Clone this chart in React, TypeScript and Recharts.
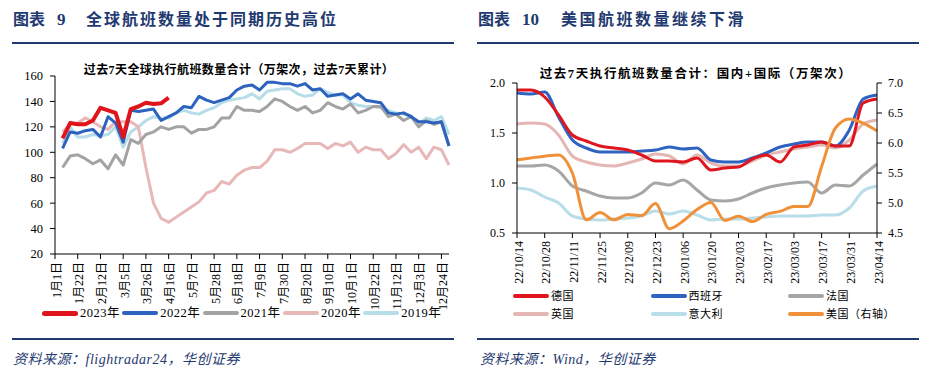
import React from "react";
import { LineChart, Line, XAxis, YAxis } from "recharts";

// ---- 图表9：全球航班（周度，1月1日起） ----
const DAY = 86400000;
const globalWeeks = Array.from({ length: 53 }, (_, i) => {
  const d = new Date(Date.UTC(2023, 0, 1) + i * 7 * DAY);
  return `${d.getUTCMonth() + 1}月${d.getUTCDate()}日`;
});

const y2023 = [null, 111, 123, 122, 122, 125, 135, 133, 131, 112, 134, 136, 139, 138, 138.5, 143, ...Array(37).fill(null)];
const y2022 = [null, 103, 116, 115, 117, 118, 112, 128, 123, 108, 133, 132, 133, 134, 125, 128, 131, 136, 135, 144, 141, 139, 141, 143, 149, 152, 153, 149, 155, 155, 154, 154, 152, 154, 149, 150, 144, 145, 146, 142, 146, 141, 140, 139, 131, 130, 131, 128, 124, 124, 123, 124, 105];
const y2021 = [null, 88, 97, 98, 95, 91, 94, 87, 98, 90, 110, 107, 114, 116, 120, 118, 120, 120, 115, 118, 118, 120, 127, 127, 136, 133, 133, 132, 136, 142, 140, 136, 133, 136, 131, 133, 139, 136, 134, 138, 131, 133, 136, 136, 128, 130, 125, 128, 120, 125, 122, 124, 105];
const y2020 = [null, 116, 122, 123, 127, 124, 120, 118, 124, 124, 124, 120, 88, 60, 48, 45, 49, 53, 57, 61, 68, 70, 77, 75, 82, 86, 88, 88, 93, 102, 102, 100, 103, 107, 107, 107, 103, 107, 105, 108, 100, 104, 102, 102, 95, 99, 106, 100, 104, 95, 104, 102, 90];
const y2019 = [null, 107, 120, 112, 112, 114, 113, 114, 120, 104, 116, 120, 125, 128, 127, 127, 131, 133, 131, 130, 133, 135, 139, 141, 142, 143, 146, 142, 148, 149, 150, 150, 146, 144, 145, 150, 147, 145, 145, 139, 137, 136, 136, 135, 133, 131, 130, 129, 122, 127, 125, 128, 114];
const globalTicks = [20, 40, 60, 80, 100, 120, 140, 160];

const globalSeries = [
  { key: "y2019", name: "2019年", color: "#B7DDE8", data: y2019 },
  { key: "y2020", name: "2020年", color: "#E6B9B8", data: y2020 },
  { key: "y2021", name: "2021年", color: "#A3A3A3", data: y2021 },
  { key: "y2022", name: "2022年", color: "#2D63BE", data: y2022 },
  { key: "y2023", name: "2023年", color: "#E0151C", data: y2023 },
];
const globalLegendOrder = ["y2023", "y2022", "y2021", "y2020", "y2019"];

const globalData = globalWeeks.map((w, i) => {
  const row: Record<string, any> = { week: w };
  globalSeries.forEach((s) => (row[s.key] = s.data[i]));
  return row;
});

// ---- 图表10：欧美航班（周度，22/10/14起） ----
const pad = (n: number) => String(n).padStart(2, "0");
const usWeeks = Array.from({ length: 27 }, (_, i) => {
  const d = new Date(Date.UTC(2022, 9, 14) + i * 7 * DAY);
  return `${String(d.getUTCFullYear()).slice(2)}/${pad(d.getUTCMonth() + 1)}/${pad(d.getUTCDate())}`;
});

const germany = [1.93, 1.93, 1.86, 1.68, 1.48, 1.42, 1.37, 1.35, 1.33, 1.28, 1.22, 1.22, 1.21, 1.25, 1.13, 1.15, 1.16, 1.24, 1.28, 1.21, 1.36, 1.38, 1.41, 1.37, 1.37, 1.80, 1.84];
const spain = [1.90, 1.89, 1.91, 1.66, 1.43, 1.35, 1.31, 1.31, 1.31, 1.32, 1.33, 1.36, 1.34, 1.35, 1.23, 1.21, 1.21, 1.25, 1.30, 1.36, 1.39, 1.41, 1.41, 1.37, 1.53, 1.84, 1.88];
const france = [1.17, 1.17, 1.18, 1.12, 0.97, 0.92, 0.87, 0.85, 0.85, 0.90, 1.00, 0.98, 1.03, 0.93, 0.83, 0.82, 0.84, 0.90, 0.95, 0.98, 1.00, 1.01, 0.90, 0.98, 0.97, 1.08, 1.19];
const uk = [1.59, 1.60, 1.59, 1.48, 1.27, 1.21, 1.18, 1.17, 1.20, 1.24, 1.29, 1.27, 1.19, 1.28, 1.20, 1.17, 1.17, 1.22, 1.28, 1.31, 1.34, 1.36, 1.38, 1.35, 1.43, 1.59, 1.63];
const italy = [0.95, 0.93, 0.86, 0.80, 0.67, 0.64, 0.63, 0.64, 0.65, 0.67, 0.72, 0.69, 0.72, 0.68, 0.63, 0.64, 0.64, 0.65, 0.66, 0.67, 0.67, 0.67, 0.68, 0.68, 0.75, 0.92, 0.97];
const usa = [5.72, 5.75, 5.78, 5.80, 5.50, 4.72, 4.84, 4.72, 4.81, 4.79, 4.99, 4.57, 4.70, 4.89, 5.01, 4.71, 4.78, 4.69, 4.81, 4.86, 4.94, 4.94, 5.61, 6.25, 6.40, 6.33, 6.20];
const leftTicks = [0.5, 1.0, 1.5, 2.0];
const rightTicks = [4.5, 5.0, 5.5, 6.0, 6.5, 7.0];

const euSeries = [
  { key: "italy", name: "意大利", color: "#B9DEE9", data: italy, axis: "l" },
  { key: "france", name: "法国", color: "#A6A6A6", data: france, axis: "l" },
  { key: "uk", name: "英国", color: "#E4B7B5", data: uk, axis: "l" },
  { key: "spain", name: "西班牙", color: "#2E63C2", data: spain, axis: "l" },
  { key: "germany", name: "德国", color: "#E0161E", data: germany, axis: "l" },
  { key: "usa", name: "美国（右轴）", color: "#F0913A", data: usa, axis: "r" },
];
const euLegendOrder = ["germany", "spain", "france", "uk", "italy", "usa"];

const usData = usWeeks.map((w, i) => {
  const row: Record<string, any> = { week: w };
  euSeries.forEach((s) => (row[s.key] = s.data[i]));
  return row;
});

const NAVY = "#1F3A70";
const SERIF = "'Liberation Serif', 'Noto Sans CJK SC', serif";

const VTick = (props: any) => {
  const { x, y, payload, fontSize } = props;
  const cx = x + 1.5;
  return (
    <text
      x={cx}
      y={y}
      transform={`rotate(-90, ${cx}, ${y})`}
      textAnchor="end"
      dominantBaseline="central"
      fontSize={fontSize}
      fontFamily={SERIF}
      fill="#000"
    >
      {payload.value}
    </text>
  );
};

const abs = (left: number, top: number, extra: React.CSSProperties = {}): React.CSSProperties => ({
  position: "absolute",
  left,
  top,
  whiteSpace: "nowrap",
  ...extra,
});

function Title({ x, no, text, spacing }: { x: number; no: string; text: string; spacing: number }) {
  const f: React.CSSProperties = { fontFamily: SERIF, fontWeight: 700, fontSize: 16, color: NAVY, lineHeight: "20px" };
  return (
    <>
      <div style={abs(x, 10, f)}>图表</div>
      <div style={abs(x + 44, 10, { ...f, fontSize: 17 })}>{no}</div>
      <div style={abs(x + (no.length > 1 ? 83 : 73), 10, { ...f, letterSpacing: spacing })}>{text}</div>
    </>
  );
}

function LegendItem({ x, y, color, name, width, thick, fontSize }: any) {
  return (
    <>
      <div style={abs(x, y - thick / 2, { width, height: thick, background: color, borderRadius: thick / 2 })} />
      <div style={abs(x + width + 2, y - 8, { fontFamily: SERIF, fontSize, lineHeight: "16px", color: "#000", letterSpacing: 0.5 })}>
        {name}
      </div>
    </>
  );
}

export default function App() {
  return (
    <div style={{ position: "absolute", left: 0, top: 0, width: 944, height: 380, background: "#fff", overflow: "hidden" }}>
      {/* 左图 */}
      <Title x={13} no="9" text="全球航班数量处于同期历史高位" spacing={2} />
      <div style={abs(12, 42, { width: 442, height: 2, background: NAVY })} />
      <div style={abs(0, 60, { width: 478, textAlign: "center", fontFamily: SERIF, fontWeight: 700, fontSize: 12, letterSpacing: 0.4 })}>
        过去7天全球执行航班数量合计（万架次，过去7天累计）
      </div>
      <div style={abs(0, 0)}>
        <LineChart width={470} height={310} data={globalData} margin={{ top: 76, right: 21, bottom: 0, left: 0 }}>
          <XAxis
            dataKey="week"
            interval={2}
            height={56}
            tickSize={5}
            tickMargin={3}
            tick={<VTick fontSize={12} />}
            axisLine={{ stroke: "#000" }}
            tickLine={{ stroke: "#000" }}
          />
          <YAxis
            width={55}
            domain={[20, 160]}
            ticks={globalTicks}
            tickSize={5}
            tickMargin={7}
            tick={{ fontSize: 12.5, fontFamily: SERIF, fill: "#000" }}
            axisLine={{ stroke: "#000" }}
            tickLine={{ stroke: "#000" }}
          />
          {globalSeries.map((s) => (
            <Line
              key={s.key}
              dataKey={s.key}
              stroke={s.color}
              strokeWidth={s.key === "y2023" ? 4 : 3}
              dot={false}
              type="linear"
              strokeLinejoin="round"
              isAnimationActive={false}
              connectNulls={false}
            />
          ))}
        </LineChart>
      </div>
      {globalLegendOrder.map((k, i) => {
        const s = globalSeries.find((g) => g.key === k)!;
        return (
          <LegendItem key={k} x={42 + i * 80.3} y={313} color={s.color} name={s.name} width={36} thick={k === "y2023" ? 5 : 4} fontSize={12.5} />
        );
      })}
      <div style={abs(12, 338, { width: 442, height: 2, background: NAVY })} />
      <div style={abs(13, 348, { fontFamily: SERIF, fontStyle: "italic", fontSize: 14, color: NAVY, letterSpacing: 0.5 })}>
        资料来源：flightradar24，华创证券
      </div>

      {/* 右图 */}
      <Title x={478} no="10" text="美国航班数量继续下滑" spacing={2.5} />
      <div style={abs(477, 42, { width: 442, height: 2, background: NAVY })} />
      <div style={abs(472, 63, { width: 448, textAlign: "center", fontFamily: SERIF, fontWeight: 700, fontSize: 12.5, letterSpacing: 1.6 })}>
        过去7天执行航班数量合计：国内+国际（万架次）
      </div>
      <div style={abs(470, 0)}>
        <LineChart width={450} height={290} data={usData} margin={{ top: 83, right: 0, bottom: 0, left: 0 }}>
          <XAxis
            dataKey="week"
            interval={1}
            height={57}
            tickSize={5}
            tickMargin={3}
            tick={<VTick fontSize={12} />}
            axisLine={{ stroke: "#000" }}
            tickLine={{ stroke: "#000" }}
          />
          <YAxis
            yAxisId="l"
            width={47}
            domain={[0.5, 2.0]}
            ticks={leftTicks}
            tickFormatter={(v: number) => v.toFixed(1)}
            tickSize={5}
            tickMargin={7}
            tick={{ fontSize: 12, fontFamily: SERIF, fill: "#000" }}
            axisLine={{ stroke: "#000" }}
            tickLine={{ stroke: "#000" }}
          />
          <YAxis
            yAxisId="r"
            orientation="right"
            width={43}
            domain={[4.5, 7.0]}
            ticks={rightTicks}
            tickFormatter={(v: number) => v.toFixed(1)}
            tickSize={5}
            tickMargin={6}
            tick={{ fontSize: 12, fontFamily: SERIF, fill: "#000", textAnchor: "start" }}
            axisLine={{ stroke: "#000" }}
            tickLine={{ stroke: "#000" }}
          />
          {euSeries.map((s) => (
            <Line
              key={s.key}
              yAxisId={s.axis}
              dataKey={s.key}
              stroke={s.color}
              strokeWidth={3}
              dot={false}
              type="monotone"
              isAnimationActive={false}
            />
          ))}
        </LineChart>
      </div>
      {euLegendOrder.map((k, i) => {
        const s = euSeries.find((g) => g.key === k)!;
        const col = i % 3;
        const row = Math.floor(i / 3);
        return (
          <LegendItem key={k} x={513 + col * 137.5} y={296 + row * 17.5} color={s.color} name={s.name} width={36} thick={4} fontSize={11} />
        );
      })}
      <div style={abs(477, 338, { width: 442, height: 2, background: NAVY })} />
      <div style={abs(480, 348, { fontFamily: SERIF, fontStyle: "italic", fontSize: 14, color: NAVY, letterSpacing: 0.5 })}>
        资料来源：Wind，华创证券
      </div>
    </div>
  );
}
